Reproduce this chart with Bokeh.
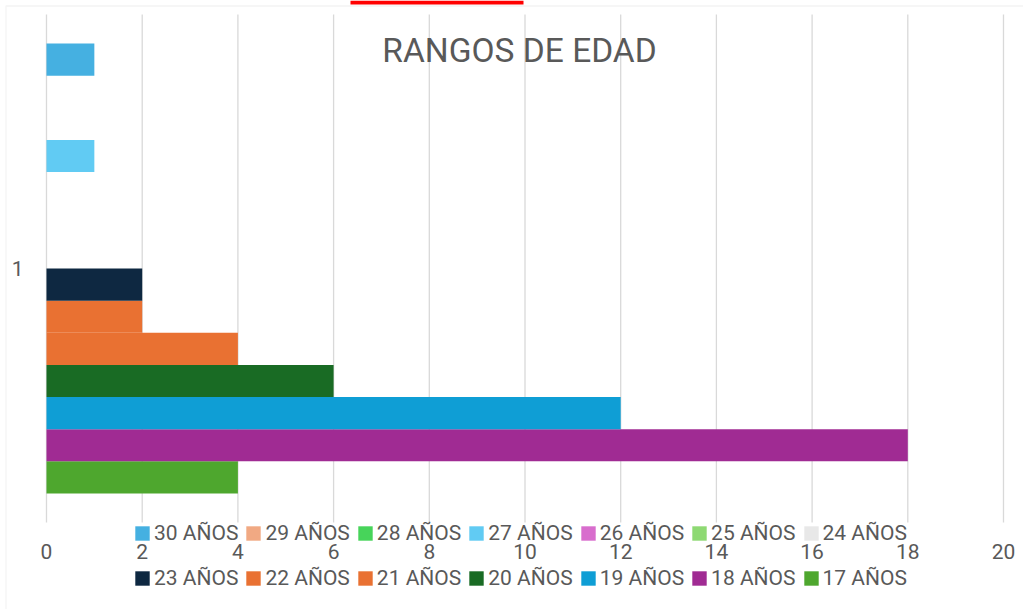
from bokeh.plotting import figure
from bokeh.models import (Range1d, FixedTicker, Legend, LegendItem, Label, LinearAxis,
                          BoxAnnotation, ColumnDataSource)
from bokeh.embed import file_html
from bokeh.resources import INLINE

# ---- data ----
chart_title = "RANGOS DE EDAD"
category_labels = ["1"]
series_names = ["17 AÑOS", "18 AÑOS", "19 AÑOS", "20 AÑOS", "21 AÑOS", "22 AÑOS",
                "23 AÑOS", "24 AÑOS", "25 AÑOS", "26 AÑOS", "27 AÑOS", "28 AÑOS",
                "29 AÑOS", "30 AÑOS"]
series_values = [4, 18, 12, 6, 4, 2, 2, 0, 0, 0, 1, 0, 0, 1]
series_colors = ["#4EA72E", "#A02B93", "#0F9ED5", "#196B24", "#E97132", "#E97132",
                 "#0E2841", "#E8E8E8", "#8ED973", "#D86DCD", "#61CBF3", "#47D45A",
                 "#F1A983", "#45B0E1"]
x_ticks = [0, 2, 4, 6, 8, 10, 12, 14, 16, 18, 20]

TEXT = "#595959"
FONT = "Roboto"
W, H = 1023, 609
# plot-area placement in pixels (layout only)
PL, PR, PT, PB = 46, 1003, 14, 522

xs = (PR - PL) / (x_ticks[-1] - x_ticks[0])
ys = (PB - PT) / 1.0
x_range = Range1d(x_ticks[0] - PL / xs, x_ticks[-1] + (W - PR) / xs)
y_range = Range1d(0.5 - (H - PB) / ys, 1.5 + PT / ys)

p = figure(width=W, height=H, x_range=x_range, y_range=y_range,
           x_axis_location=None, y_axis_location=None,
           output_backend="svg", toolbar_location=None,
           min_border=0)
p.styles = {"position": "absolute", "left": "0px", "top": "0px"}
p.outline_line_color = None
p.background_fill_color = "white"
p.border_fill_color = "white"
p.xgrid.visible = False
p.ygrid.visible = False

# vertical grid lines over the category band
p.segment(x0=x_ticks, x1=x_ticks, y0=[0.5] * len(x_ticks), y1=[1.5] * len(x_ticks),
          line_color="#D9D9D9", line_width=1.3)

# axes drawn at fixed data positions
xaxis = LinearAxis(fixed_location=0.5, ticker=FixedTicker(ticks=x_ticks))
yaxis = LinearAxis(fixed_location=x_ticks[0], ticker=FixedTicker(ticks=[1]),
                   major_label_overrides={1: category_labels[0]})
for ax in (xaxis, yaxis):
    ax.axis_line_color = None
    ax.major_tick_line_color = None
    ax.minor_tick_line_color = None
    ax.major_tick_out = 0
    ax.major_tick_in = 0
    ax.minor_tick_out = 0
    ax.minor_tick_in = 0
    ax.major_label_text_font = FONT
    ax.major_label_text_font_size = "21px"
    ax.major_label_text_color = TEXT
xaxis.major_label_standoff = 21
yaxis.major_label_standoff = 23
p.add_layout(xaxis, "below")
p.add_layout(yaxis, "left")

# bars
n = len(series_names)
group_frac = 450 / 508
bar_h = group_frac / n
bars = []
for i in range(n):
    yc = 1 - group_frac / 2 + (i + 0.5) * bar_h
    src = ColumnDataSource(dict(y=[yc], right=[series_values[i]]))
    r = p.hbar(y="y", left=0, right="right", height=bar_h, source=src,
               fill_color=series_colors[i], line_color=None)
    bars.append(r)


def make_legend(indices, loc):
    return Legend(items=[LegendItem(label=series_names[i], renderers=[bars[i]]) for i in indices],
                  orientation="horizontal", location=loc,
                  glyph_width=18, glyph_height=18, label_height=18,
                  label_standoff=3, spacing=6,
                  padding=0, margin=0, border_line_color=None, background_fill_alpha=0,
                  label_text_font=FONT, label_text_font_size="21px",
                  label_text_line_height=0.8,
                  label_text_color=TEXT)


p.add_layout(make_legend(list(range(13, 6, -1)), (133, 64)), "center")
p.add_layout(make_legend(list(range(6, -1, -1)), (133, 19)), "center")

# title
p.add_layout(Label(x=9.885, y=1.430, text=chart_title, text_align="center",
                   text_baseline="middle", text_font=FONT, text_font_size="33.5px",
                   text_color=TEXT))

# chart border and red strip
p.add_layout(BoxAnnotation(left=5.5, right=1060, top=5.5, bottom=660,
                           left_units="canvas", right_units="canvas",
                           top_units="canvas", bottom_units="canvas",
                           fill_color=None, line_color="#D9D9D9", line_width=1.3))
p.add_layout(BoxAnnotation(left=350, right=523, top=0, bottom=4,
                           left_units="canvas", right_units="canvas",
                           top_units="canvas", bottom_units="canvas",
                           fill_color="#FF0000", fill_alpha=1, line_color=None))

open("out.html", "w").write(file_html(p, INLINE))
